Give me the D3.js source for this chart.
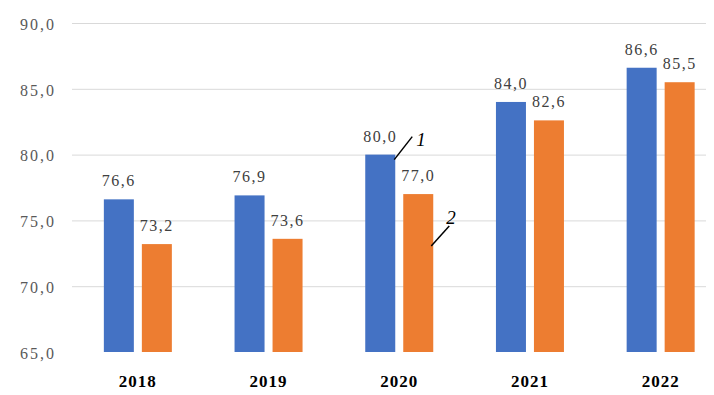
<!DOCTYPE html>
<html>
<head>
<meta charset="utf-8">
<script src="https://cdn.jsdelivr.net/npm/d3@7"></script>
<style>
  body { margin: 0; background: #fff; }
  svg { display: block; }
</style>
</head>
<body>
<svg id="chart" width="714" height="395"></svg>
<script>
// data
const years = ["2018", "2019", "2020", "2021", "2022"];
const series1 = [76.6, 76.9, 80.0, 84.0, 86.6];
const series2 = [73.2, 73.6, 77.0, 82.6, 85.5];
const yTicks = [65, 70, 75, 80, 85, 90];

const colors = ["#4472c4", "#ed7d31"];

const svg = d3.select("#chart");

const chart = {
  gridLeft: 72,
  gridRight: 706,
  barW: 30,
  gap: 8,
};

const x = d3.scaleBand()
  .domain(years)
  .range([72.5, 726]);

const y = d3.scaleLinear()
  .domain([65, 90])
  .range([352, 23]);

const fmt = v => d3.format(".1f")(v).replace(".", ",");

// gridlines
svg.append("g")
  .selectAll("line")
  .data(yTicks.slice(1))
  .enter().append("line")
    .attr("x1", chart.gridLeft)
    .attr("x2", chart.gridRight)
    .attr("y1", d => y(d) + 0.5)
    .attr("y2", d => y(d) + 0.5)
    .attr("stroke", "#d9d9d9")
    .attr("stroke-width", 1);

// y axis labels
svg.append("g")
  .selectAll("text")
  .data(yTicks)
  .enter().append("text")
    .attr("x", 56)
    .attr("y", d => y(d))
    .attr("dy", "0.42em")
    .attr("text-anchor", "end")
    .attr("fill", "#595959")
    .style("font-family", "'Liberation Serif', 'Times New Roman', serif")
    .style("font-size", "16px")
    .style("letter-spacing", "2px")
    .text(fmt);

// bars
const rows = years.map((yr, i) => ({ year: yr, vals: [series1[i], series2[i]] }));

function barX(d, k) {
  const c = x(d.year) + x.bandwidth() / 2;
  return k == 0 ? c - chart.gap / 2 - chart.barW : c + chart.gap / 2;
}

[0, 1].forEach(function(k) {
  const g = svg.append("g").attr("class", "series-" + k);

  g.selectAll("rect")
    .data(rows)
    .enter().append("rect")
      .attr("x", d => barX(d, k))
      .attr("width", chart.barW)
      .attr("y", d => y(d.vals[k]))
      .attr("height", d => y(65) - y(d.vals[k]))
      .attr("fill", colors[k]);

  g.selectAll("text")
    .data(rows)
    .enter().append("text")
      .attr("x", d => barX(d, k) + chart.barW / 2)
      .attr("y", d => y(d.vals[k]) - 13)
      .attr("text-anchor", "middle")
      .attr("fill", "#404040")
      .style("font-family", "'Liberation Serif', 'Times New Roman', serif")
      .style("font-size", "16px")
      .style("letter-spacing", "1.5px")
      .text(d => fmt(d.vals[k]));
});

// category labels
svg.append("g")
  .selectAll("text")
  .data(years)
  .enter().append("text")
    .attr("x", d => x(d) + x.bandwidth() / 2)
    .attr("y", 387)
    .attr("text-anchor", "middle")
    .attr("fill", "#000")
    .style("font-family", "'Liberation Serif', 'Times New Roman', serif")
    .style("font-size", "17px")
    .style("font-weight", "bold")
    .style("letter-spacing", "1px")
    .text(d => d);

// series markers "1" and "2" next to the 2020 pair
const r2020 = rows[2];
const callouts = [
  { label: "1", x0: barX(r2020, 0) + chart.barW - 1, y0: y(r2020.vals[0]) + 5, dx: 18, dy: -23, tx: 4, ty: 9 },
  { label: "2", x0: barX(r2020, 1) + chart.barW - 2, y0: y(r2020.vals[1]) + 52, dx: 18, dy: -20, tx: -3, ty: -2 },
];

const cg = svg.append("g");
callouts.forEach(function(c) {
  cg.append("line")
    .attr("x1", c.x0).attr("y1", c.y0)
    .attr("x2", c.x0 + c.dx).attr("y2", c.y0 + c.dy)
    .attr("stroke", "#000")
    .attr("stroke-width", 1.5);
  cg.append("text")
    .attr("x", c.x0 + c.dx + c.tx)
    .attr("y", c.y0 + c.dy + c.ty)
    .attr("fill", "#000")
    .style("font-family", "'Liberation Serif', 'Times New Roman', serif")
    .style("font-size", "19px")
    .style("font-style", "italic")
    .text(c.label);
});
</script>
</body>
</html>
